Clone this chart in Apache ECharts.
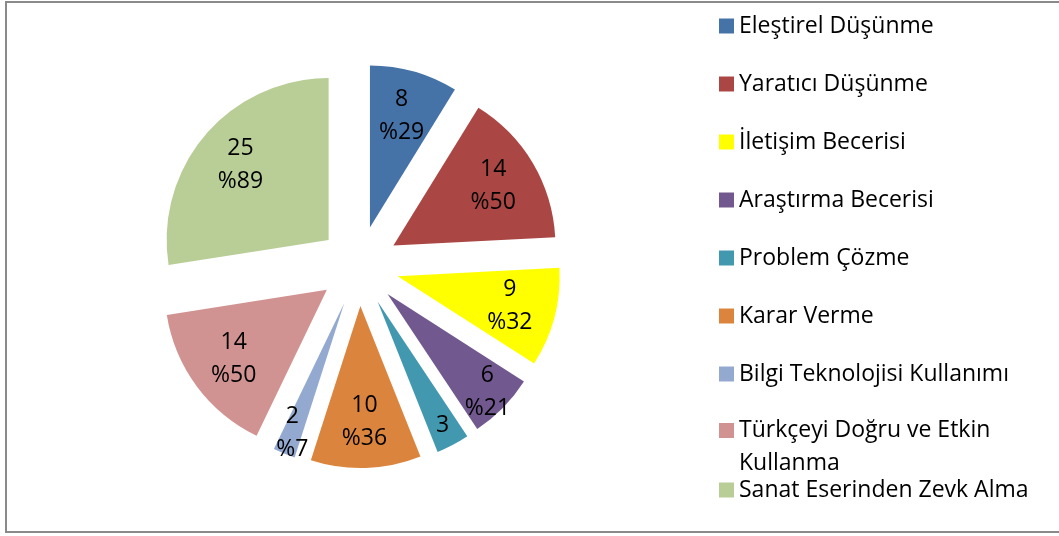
<!DOCTYPE html>
<html>
<head>
<meta charset="utf-8">
<script src="https://cdn.jsdelivr.net/npm/echarts@6/dist/echarts.min.js"></script>
<style>
  html, body { margin: 0; padding: 0; background: #fff; }
  #frame { position: absolute; left: 5px; top: 1px; width: 1070px; height: 532px; border: 2px solid #8a8a8a; box-sizing: border-box; }
  #chart { position: absolute; left: 0; top: 0; width: 1059px; height: 536px; }
</style>
</head>
<body>
<div id="frame"></div>
<div id="chart"></div>
<script>
const categories = [
  'Eleştirel Düşünme',
  'Yaratıcı Düşünme',
  'İletişim Becerisi',
  'Araştırma Becerisi',
  'Problem Çözme',
  'Karar Verme',
  'Bilgi Teknolojisi Kullanımı',
  'Türkçeyi Doğru ve Etkin Kullanma',
  'Sanat Eserinden Zevk Alma'
];
const counts = [8, 14, 9, 6, 3, 10, 2, 14, 25];
const percents = [29, 50, 32, 21, null, 36, 7, 50, 89];
const palette = ['#4572A7', '#AA4643', '#FFFF00', '#71588F', '#4198AF', '#DB843D', '#93A9CF', '#D19392', '#B9CD96'];

const FONT = 'Open Sans';
// labels of narrow slices sit further out along the slice
const OUTER_LABELS = new Set([3, 4, 6]);

const pieData = categories.map((n, i) => ({ name: n, value: counts[i], selected: true }));
const commonPie = {
  type: 'pie',
  center: [359, 266],
  startAngle: 90,
  clockwise: true,
  selectedMode: 'multiple',
  selectedOffset: 40,
  silent: true,
  animation: false,
  avoidLabelOverlap: false,
  labelLine: { show: false },
  labelLayout: { hideOverlap: false },
  emphasis: { disabled: true }
};

function labelText(p) {
  const pc = percents[p.dataIndex];
  return pc === null ? String(p.value) : p.value + '\n%' + pc;
}
function labelSeries(name, radius, outer) {
  return Object.assign({}, commonPie, {
    name: name,
    radius: radius,
    data: pieData,
    itemStyle: { color: 'transparent' },
    label: {
      show: true,
      position: 'inside',
      fontFamily: FONT,
      fontSize: 23,
      lineHeight: 33,
      color: '#000',
      formatter: p => (OUTER_LABELS.has(p.dataIndex) === outer ? labelText(p) : '')
    }
  });
}

const legendBase = {
  orient: 'vertical',
  left: 719,
  padding: 0,
  icon: 'rect',
  itemWidth: 15,
  itemHeight: 15,
  selectedMode: false,
  textStyle: { fontFamily: FONT, fontSize: 23, color: '#000', lineHeight: 28 }
};

const chart = echarts.init(document.getElementById('chart'), null, { renderer: 'canvas' });
chart.setOption({
  backgroundColor: 'transparent',
  color: palette,
  animation: false,
  legend: [
    Object.assign({}, legendBase, { top: 12, itemGap: 30, data: categories.slice(0, 7) }),
    Object.assign({}, legendBase, {
      top: 381, data: [categories[7]],
      textStyle: { fontFamily: FONT, fontSize: 23, color: '#000', lineHeight: 33 },
      formatter: name => '\n' + name.replace(' Kullanma', '\nKullanma')
    }),
    Object.assign({}, legendBase, { top: 476, data: [categories[8]] })
  ],
  series: [
    Object.assign({}, commonPie, {
      name: 'main',
      radius: [0, 162],
      data: pieData,
      label: { show: false }
    }),
    labelSeries('labels', [64, 162], false),
    labelSeries('labelsOuter', [112, 162], true)
  ]
});
</script>
</body>
</html>
